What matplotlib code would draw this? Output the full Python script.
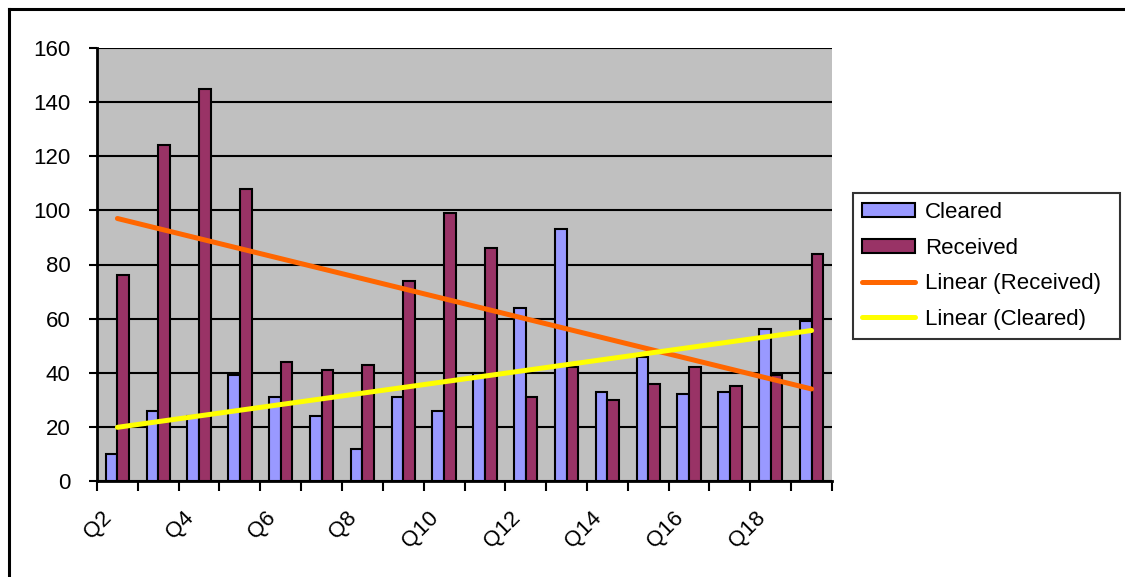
import numpy as np
import matplotlib.pyplot as plt
import matplotlib.transforms as mtransforms
from matplotlib.patches import Rectangle
from matplotlib.lines import Line2D

plt.rcParams['font.family'] = ['Liberation Sans', 'DejaVu Sans']

quarters = ["Q%d" % i for i in range(2, 20)]
cleared = [10, 26, 24, 39, 31, 24, 12, 31, 26, 40, 64, 93, 33, 46, 32, 33, 56, 59]
received = [76, 124, 145, 108, 44, 41, 43, 74, 99, 86, 31, 42, 30, 36, 42, 35, 39, 84]

fig = plt.figure(figsize=(11.25, 5.77), dpi=100)
W, H = 1125, 577
ax = fig.add_axes([97 / W, 1 - 481 / H, (832 - 97) / W, (481 - 48) / H])
ax.set_facecolor("#C0C0C0")

x = np.arange(len(quarters))
bw = 1 / 3.5
ax.bar(x - bw / 2, cleared, bw, color="#9999FF", edgecolor="black", linewidth=1.5,
       label="Cleared", zorder=3)
ax.bar(x + bw / 2, received, bw, color="#993366", edgecolor="black", linewidth=1.5,
       label="Received", zorder=3)

# least-squares trend lines, like Excel's "Linear" trendline
for series, color, name in [(received, "#FF6600", "Linear (Received)"),
                            (cleared, "#FFFF00", "Linear (Cleared)")]:
    k, b = np.polyfit(x, series, 1)
    ax.plot(x, k * x + b, color=color, linewidth=3.6, solid_capstyle="round",
            label=name, zorder=4)

ax.set_xlim(-0.5, len(quarters) - 0.5)
ax.set_ylim(0, 160)
ax.set_yticks(range(0, 161, 20))
ax.grid(axis="y", color="black", linewidth=1.5, zorder=1)
ax.set_axisbelow(False)

for s in ["top", "right"]:
    ax.spines[s].set_visible(False)
for s in ["left", "bottom"]:
    ax.spines[s].set_linewidth(2)
    ax.spines[s].set_zorder(5)

ax.tick_params(axis="y", direction="out", length=6, width=1.5, pad=13, labelsize=16)

# category boundaries carry the tick marks, every other centre gets a label
ax.set_xticks(np.arange(-0.5, len(quarters)), minor=True)
ax.set_xticks(x[::2])
ax.set_xticklabels(quarters[::2], rotation=45, ha="right", va="top",
                   rotation_mode="anchor", fontsize=16)
ax.tick_params(axis="x", which="major", length=0, pad=19)
ax.tick_params(axis="x", which="minor", direction="out", length=7, width=1.5)
shift = mtransforms.ScaledTranslation(-16 / 100, 0, fig.dpi_scale_trans)
for lbl in ax.get_xticklabels():
    lbl.set_transform(lbl.get_transform() + shift)

handles = [Rectangle((0, 0), 1, 1, facecolor="#9999FF", edgecolor="black", linewidth=1.5),
           Rectangle((0, 0), 1, 1, facecolor="#993366", edgecolor="black", linewidth=1.5),
           Line2D([], [], color="#FF6600", linewidth=3.6, solid_capstyle="round"),
           Line2D([], [], color="#FFFF00", linewidth=3.6, solid_capstyle="round")]
labels = ["Cleared", "Received", "Linear (Received)", "Linear (Cleared)"]
leg = fig.legend(handles, labels, loc="upper left", mode="expand",
                 bbox_to_anchor=(853 / W, 1 - 334 / H, (1120 - 853) / W, (334 - 193) / H),
                 fontsize=16, frameon=True, fancybox=False, borderpad=0.4,
                 handlelength=2.4, handleheight=0.6, handletextpad=0.45,
                 labelspacing=0.66, borderaxespad=0)
leg.get_frame().set_edgecolor("black")
leg.get_frame().set_linewidth(1.5)

# chart area border
fig.add_artist(Line2D([9 / W, 9 / W], [0, 1 - 9 / H], color="black", linewidth=2.2))
fig.add_artist(Line2D([9 / W, 1], [1 - 9 / H, 1 - 9 / H], color="black", linewidth=2.2))

fig.savefig("out.png", dpi=100)
